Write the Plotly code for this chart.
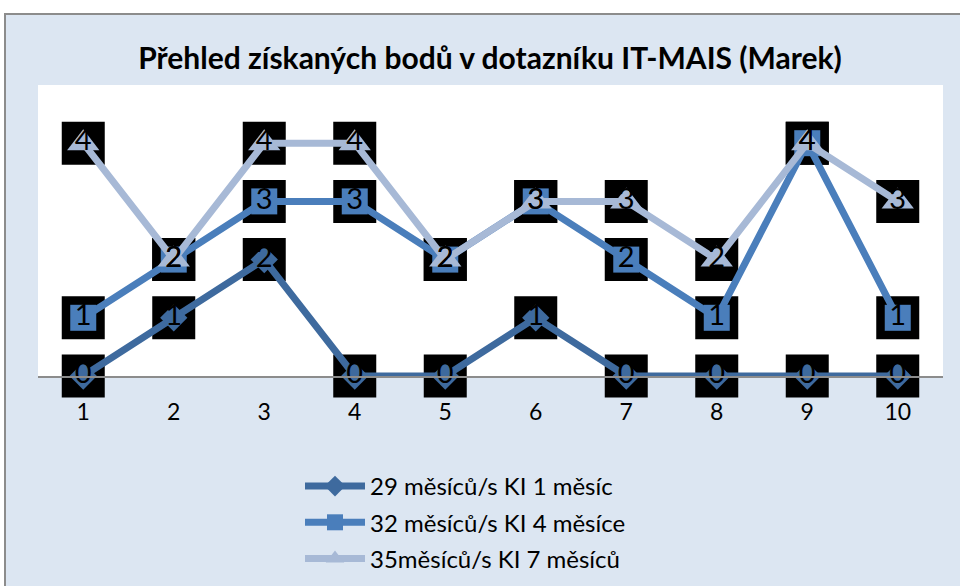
import plotly.graph_objects as go

categories = [1, 2, 3, 4, 5, 6, 7, 8, 9, 10]
s1_name = "29 měsíců/s KI 1 měsíc"
s2_name = "32 měsíců/s KI 4 měsíce"
s3_name = "35měsíců/s KI 7 měsíců"
s1_values = [0, 1, 2, 0, 0, 1, 0, 0, 0, 0]
s2_values = [1, 2, 3, 3, 2, 3, 2, 1, 4, 1]
s3_values = [4, 2, 4, 4, 2, 3, 3, 2, 4, 3]
title_text = "Přehled získaných bodů v dotazníku IT-MAIS (Marek)"

FONT = "Lato"
c1, c2, c3 = "#3E6A9E", "#4A7EBB", "#A7B9D6"

fig = go.Figure()

all_x = categories * 3
all_y = s1_values + s2_values + s3_values

# black label boxes
fig.add_trace(go.Scatter(x=all_x, y=all_y, mode="markers",
                         marker=dict(symbol="square", size=43, color="black"),
                         showlegend=False, hoverinfo="skip", cliponaxis=False))

for i, (name, vals, col, sym, sz) in enumerate([
    (s1_name, s1_values, c1, "diamond", 21),
    (s2_name, s2_values, c2, "square", 26),
    (s3_name, s3_values, c3, "triangle-up", 28),
]):
    fig.add_trace(go.Scatter(x=categories, y=vals, mode="lines+markers", name=name,
                             legendgroup="g%d" % i,
                             line=dict(color=col, width=7),
                             marker=dict(symbol=sym, size=sz, color=col),
                             cliponaxis=False))

fig.add_trace(go.Scatter(x=all_x, y=all_y, mode="text", text=[str(v) for v in all_y],
                         textposition="middle center",
                         textfont=dict(family=FONT, size=29, color="black"),
                         showlegend=False, hoverinfo="skip", cliponaxis=False))

L, R, T, B = 38, 17, 85, 210
W, H = 960 - L - R, 586 - T - B

fig.add_shape(type="rect", xref="paper", yref="paper",
              x0=(5 - L) / W, x1=1.2, y0=-2, y1=(586 - B - 14) / H,
              fillcolor="#DCE6F2", line=dict(color="#8C8C8C", width=2), layer="below")
fig.add_shape(type="rect", xref="paper", yref="paper", x0=0, x1=1, y0=0, y1=1,
              fillcolor="white", line=dict(width=0), layer="below")

fig.update_layout(
    width=960, height=586,
    margin=dict(l=L, r=R, t=T, b=B, autoexpand=False),
    paper_bgcolor="white", plot_bgcolor="white",
    title=dict(text="<b>" + title_text + "</b>", x=490 / 960, xanchor="center",
               y=1 - 58 / 586, yanchor="middle", xref="container", yref="container",
               font=dict(family=FONT, size=30, color="black")),
    xaxis=dict(range=[0.5, 10.5], tickvals=categories, ticktext=[str(c) for c in categories],
               showgrid=False, zeroline=False, showline=True, linecolor="#8C8C8C", linewidth=2,
               ticks="outside", ticklen=14, tickcolor="rgba(0,0,0,0)",
               tickfont=dict(family=FONT, size=23, color="black"), fixedrange=True),
    yaxis=dict(range=[0, 5], visible=False, fixedrange=True),
    legend=dict(x=(300 - L) / W, y=(586 - B - 464) / H, xanchor="left", yanchor="top",
                bgcolor="rgba(0,0,0,0)", font=dict(family=FONT, size=24, color="black"),
                tracegroupgap=2, itemwidth=60),
    showlegend=True,
)

fig.write_html("out.html", post_script="document.body.style.margin='0';",
               config={"displayModeBar": False})
